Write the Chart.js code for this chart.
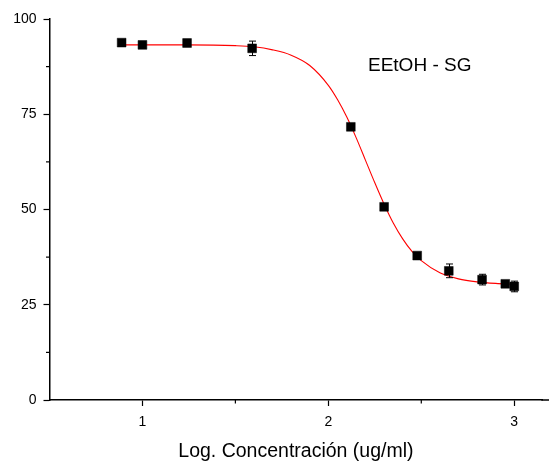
<!DOCTYPE html>
<html>
<head>
<meta charset="utf-8">
<script src="https://cdn.jsdelivr.net/npm/chart.js@4/dist/chart.umd.min.js"></script>
<style>
html,body{margin:0;padding:0;background:#fff;}
#wrap{position:relative;width:549px;height:466px;}
</style>
</head>
<body>
<div id="wrap"><canvas id="c" width="549" height="466"></canvas></div>
<script>
// ---- data ----
const logConc   = [0.888, 1.0, 1.24, 1.59, 2.121, 2.30, 2.478, 2.648, 2.827, 2.952, 3.0];
const inhibition= [93.8, 93.2, 93.7, 92.3, 71.7, 50.7, 37.9, 33.9, 31.6, 30.5, 29.8];
const errors    = [0.4, 0.4, 0.4, 1.9, 0.5, 0.5, 0.5, 1.8, 1.4, 0.5, 1.4];
const fitX      = [0.888, 1.24, 1.5, 1.6, 1.7, 1.8, 1.9, 2.0, 2.05, 2.1, 2.15, 2.2, 2.25, 2.3, 2.35, 2.4, 2.45, 2.5, 2.6, 2.7, 2.8, 2.9, 3.0];
const fitY      = [93.2, 93.2, 93.0, 92.7, 91.9, 90.5, 87.8, 82.6, 78.8, 74.2, 68.8, 62.9, 57.0, 51.4, 46.4, 42.3, 39.0, 36.6, 33.4, 31.8, 31.0, 30.6, 30.4];
const xTicks    = [1, 2, 3];
const xMinor    = [1.5, 2.5];
const yTicks    = [0, 25, 50, 75, 100];
const yMinor    = [12.5, 37.5, 62.5, 87.5];
const xTitle    = 'Log. Concentración (ug/ml)';
const seriesLabel = 'EEtOH - SG';

const FONT = '"Liberation Sans", Arial, sans-serif';

const extras = {
  id: 'extras',
  afterDatasetsDraw(chart) {
    const ctx = chart.ctx;
    const xs = chart.scales.x, ys = chart.scales.y;
    ctx.save();
    ctx.strokeStyle = '#000';
    // x axis line continues to the edge of the picture
    ctx.lineWidth = 1.5;
    ctx.beginPath(); ctx.moveTo(xs.right - 1, xs.top); ctx.lineTo(chart.width, xs.top); ctx.stroke();
    ctx.lineWidth = 1;
    logConc.forEach((v, i) => {
      const e = errors[i];
      if (e < 0.8) return;
      const px = Math.round(xs.getPixelForValue(v)) + 0.5;
      const p1 = ys.getPixelForValue(inhibition[i] + e);
      const p2 = ys.getPixelForValue(inhibition[i] - e);
      ctx.beginPath();
      ctx.moveTo(px, p1); ctx.lineTo(px, p2);
      ctx.moveTo(px - 3.5, p1); ctx.lineTo(px + 3.5, p1);
      ctx.moveTo(px - 3.5, p2); ctx.lineTo(px + 3.5, p2);
      ctx.stroke();
    });
    ctx.lineWidth = 1.2;
    const xb = xs.top;
    xMinor.forEach(v => {
      const px = xs.getPixelForValue(v);
      ctx.beginPath(); ctx.moveTo(px, xb); ctx.lineTo(px, xb + 3.5); ctx.stroke();
    });
    const yl = ys.right;
    yMinor.forEach(v => {
      const py = ys.getPixelForValue(v);
      ctx.beginPath(); ctx.moveTo(yl, py); ctx.lineTo(yl - 3.5, py); ctx.stroke();
    });
    ctx.fillStyle = '#000';
    ctx.font = '19px ' + FONT;
    ctx.textBaseline = 'middle';
    ctx.textAlign = 'left';
    ctx.fillText(seriesLabel, 368, 66);
    ctx.restore();
  }
};

new Chart(document.getElementById('c'), {
  type: 'scatter',
  data: {
    datasets: [
      {
        label: 'fit',
        data: fitX.map((x, i) => ({x, y: fitY[i]})),
        showLine: true,
        borderColor: '#ff0000',
        borderWidth: 1.1,
        pointRadius: 0,
        cubicInterpolationMode: 'monotone',
        order: 2
      },
      {
        label: seriesLabel,
        data: logConc.map((x, i) => ({x, y: inhibition[i]})),
        pointStyle: 'rect',
        pointRadius: 6.2,
        pointBackgroundColor: '#000',
        pointBorderColor: '#000',
        pointBorderWidth: 0.5,
        showLine: false,
        order: 1
      }
    ]
  },
  options: {
    responsive: false,
    animation: false,
    layout: { padding: { top: 19, right: 0, left: 0, bottom: 0 } },
    plugins: { legend: { display: false }, tooltip: { enabled: false } },
    scales: {
      x: {
        type: 'linear',
        min: 0.5,
        max: 3.151,
        afterBuildTicks: s => { s.ticks = xTicks.map(v => ({value: v})); },
        afterFit: s => { s.height = 66; },
        border: { color: '#000', width: 1.5 },
        grid: { drawOnChartArea: false, drawTicks: true, tickLength: 6, tickColor: '#000', tickWidth: 1.2 },
        ticks: { color: '#000', font: { family: FONT, size: 14 }, padding: 8, maxRotation: 0, callback: v => String(v) },
        title: { display: true, text: xTitle, color: '#000', font: { family: FONT, size: 19.5 }, padding: { top: 10, bottom: 3 } }
      },
      y: {
        type: 'linear',
        min: 0,
        max: 100,
        afterBuildTicks: s => { s.ticks = yTicks.map(v => ({value: v})); },
        afterFit: s => { s.width = 49.5; },
        border: { color: '#000', width: 1.5 },
        grid: { drawOnChartArea: false, drawTicks: true, tickLength: 6, tickColor: '#000', tickWidth: 1.2 },
        ticks: { color: '#000', font: { family: FONT, size: 14 }, padding: 7, callback: v => String(v) }
      }
    }
  },
  plugins: [extras]
});
</script>
</body>
</html>
